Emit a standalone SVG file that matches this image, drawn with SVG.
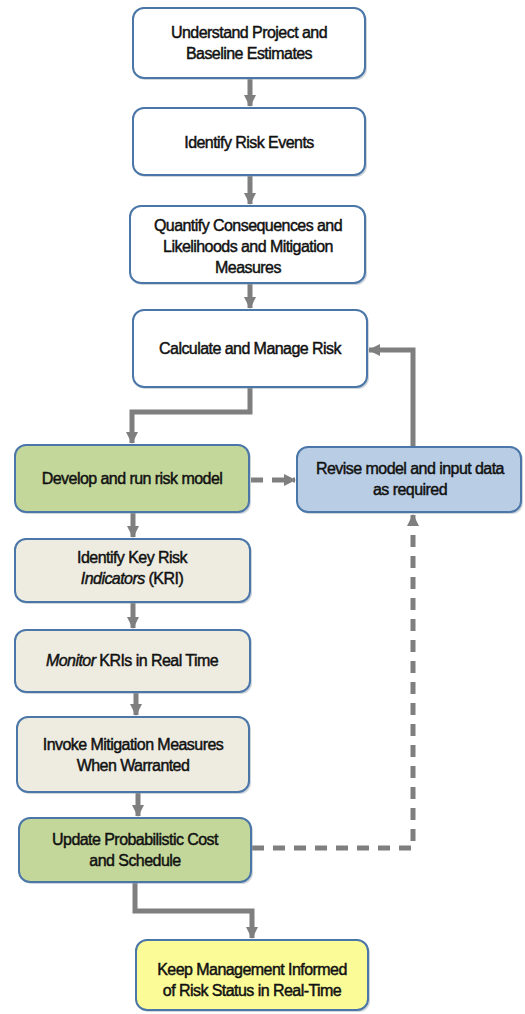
<svg xmlns="http://www.w3.org/2000/svg" width="525" height="1014" viewBox="0 0 525 1014">
<defs>
<style>
.box{stroke:#4a76a8;stroke-width:2}
.w{fill:#ffffff}
.g{fill:#c4d79b}
.b{fill:#b9cde5}
.e{fill:#eeece1}
.y{fill:#fbfb98}
.sh{fill:#9aa5b1;opacity:0.45}
text{font-family:"Liberation Sans",Arial,sans-serif;font-size:16px;fill:#111;stroke:#111;stroke-width:0.45;text-anchor:middle;letter-spacing:-0.55px}
.c{fill:none;stroke:#7f7f7f;stroke-width:5}
.d{stroke-dasharray:12 9}
</style>
<marker id="ah" markerUnits="userSpaceOnUse" markerWidth="12" markerHeight="12" viewBox="0 0 12 12" refX="11" refY="6" orient="auto">
<path d="M0,0 L12,6 L0,12 Z" fill="#7f7f7f"/>
</marker>
</defs>
<g id="connectors">
<path class="c" d="M250,79 V106" marker-end="url(#ah)"/>
<path class="c" d="M250,176 V204" marker-end="url(#ah)"/>
<path class="c" d="M250,284 V308" marker-end="url(#ah)"/>
<path class="c" d="M250,388 V412 H132 V443" marker-end="url(#ah)"/>
<path class="c" d="M413,446 V350 H369" marker-end="url(#ah)"/>
<path class="c d" d="M251,480 H295" marker-end="url(#ah)"/>
<path class="c" d="M133,513 V537" marker-end="url(#ah)"/>
<path class="c" d="M133,603 V628" marker-end="url(#ah)"/>
<path class="c" d="M136,693 V715" marker-end="url(#ah)"/>
<path class="c" d="M138,793 V816" marker-end="url(#ah)"/>
<path class="c d" d="M252,848 H413 V515" marker-end="url(#ah)"/>
<path class="c" d="M135,883 V911 H252 V938" marker-end="url(#ah)"/>
</g>
<g id="n1">
<rect class="sh" x="135" y="10" width="232" height="70" rx="11"/>
<rect class="box w" x="133" y="8" width="232" height="70" rx="11"/>
<text x="249" y="38">Understand Project and</text>
<text x="249" y="59">Baseline Estimates</text>
</g>
<g id="n2">
<rect class="sh" x="135" y="110" width="232" height="67" rx="11"/>
<rect class="box w" x="133" y="108" width="232" height="67" rx="11"/>
<text x="249" y="148">Identify Risk Events</text>
</g>
<g id="n3">
<rect class="sh" x="132" y="208" width="235" height="77" rx="11"/>
<rect class="box w" x="130" y="206" width="235" height="77" rx="11"/>
<text x="248" y="231">Quantify Consequences and</text>
<text x="248" y="252">Likelihoods and Mitigation</text>
<text x="248" y="273">Measures</text>
</g>
<g id="n4">
<rect class="sh" x="135" y="312" width="234" height="77" rx="11"/>
<rect class="box w" x="133" y="310" width="234" height="77" rx="11"/>
<text x="250" y="354">Calculate and Manage Risk</text>
</g>
<g id="n5">
<rect class="sh" x="17" y="447" width="234" height="67" rx="11"/>
<rect class="box g" x="15" y="445" width="234" height="67" rx="11"/>
<text x="132" y="484">Develop and run risk model</text>
</g>
<g id="n6">
<rect class="sh" x="299" y="449" width="224" height="65" rx="11"/>
<rect class="box b" x="297" y="447" width="224" height="65" rx="11"/>
<text x="410" y="474">Revise model and input data</text>
<text x="410" y="495">as required</text>
</g>
<g id="n7">
<rect class="sh" x="17" y="541" width="235" height="63" rx="11"/>
<rect class="box e" x="15" y="539" width="235" height="63" rx="11"/>
<text x="132" y="563">Identify Key Risk</text>
<text x="132" y="584"><tspan font-style="italic">Indicators</tspan> (KRI)</text>
</g>
<g id="n8">
<rect class="sh" x="17" y="632" width="235" height="62" rx="11"/>
<rect class="box e" x="15" y="630" width="235" height="62" rx="11"/>
<text x="132" y="666"><tspan font-style="italic">Monitor</tspan> KRIs in Real Time</text>
</g>
<g id="n9">
<rect class="sh" x="19" y="719" width="232" height="75" rx="11"/>
<rect class="box e" x="17" y="717" width="232" height="75" rx="11"/>
<text x="133" y="750">Invoke Mitigation Measures</text>
<text x="133" y="771">When Warranted</text>
</g>
<g id="n10">
<rect class="sh" x="21" y="820" width="232" height="64" rx="11"/>
<rect class="box g" x="19" y="818" width="232" height="64" rx="11"/>
<text x="135" y="845">Update Probabilistic Cost</text>
<text x="135" y="866">and Schedule</text>
</g>
<g id="n11">
<rect class="sh" x="138" y="942" width="232" height="70" rx="11"/>
<rect class="box y" x="136" y="940" width="232" height="70" rx="11"/>
<text x="252" y="975">Keep Management Informed</text>
<text x="252" y="996">of Risk Status in Real-Time</text>
</g>
</svg>
